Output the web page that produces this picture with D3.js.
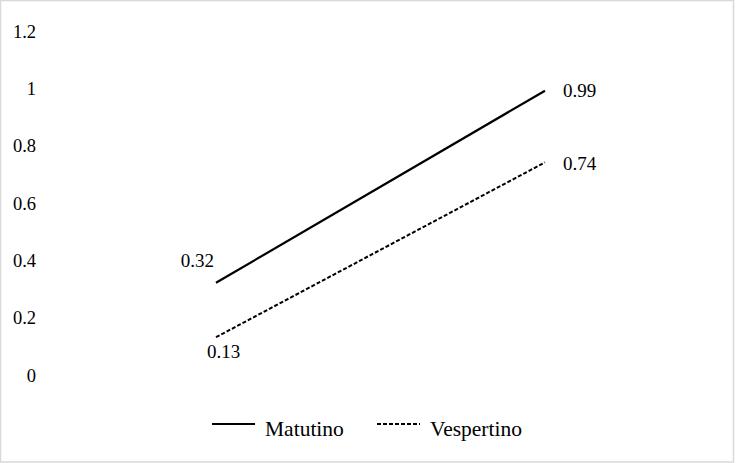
<!DOCTYPE html>
<html>
<head>
<meta charset="utf-8">
<script src="https://cdn.jsdelivr.net/npm/d3@7"></script>
<style>
	body { margin: 0; background: #fff; }
	svg text { font-family: 'Liberation Serif', 'DejaVu Serif', serif !important; fill: #000; }
</style>
</head>
<body>
<div id="chart"></div>
<script>
// data
var moments = ["inicio", "final"];
var matutino = [0.32, 0.99];
var vespertino = [0.13, 0.74];
var yTicks = [0, 0.2, 0.4, 0.6, 0.8, 1, 1.2];
var seriesNames = ["Matutino", "Vespertino"];

var width = 736, height = 463;

var svg = d3.select("#chart")
	.append("svg")
	.attr("width", width)
	.attr("height", height);

// light frame round the chart area
svg.append("rect")
	.attr("x", 0.5).attr("y", 0.5)
	.attr("width", 733).attr("height", 461.5)
	.attr("fill", "#fff")
	.attr("stroke", "#d9d9d9")
	.attr("stroke-width", 1.5);

var x = d3.scalePoint().domain(moments).range([216, 545]);
var y = d3.scaleLinear().domain([0, 1.2]).range([374.5, 30.5]);

// y axis: labels only, no line or ticks
var yAxis = svg.append("g")
	.attr("transform", "translate(36,0)")
	.call(d3.axisLeft(y).tickValues(yTicks).tickSize(0).tickPadding(0)
		.tickFormat(function(d) { return String(d); }));
yAxis.select(".domain").remove();
yAxis.selectAll("text")
	.attr("font-size", 18.5)
	.attr("dy", "0.36em");

var line = d3.line()
	.x(function(d, i) { return x(moments[i]); })
	.y(function(d) { return y(d); });

var series = [
	{ name: seriesNames[0], values: matutino, dash: null, w: 2.2 },
	{ name: seriesNames[1], values: vespertino, dash: "4,2", w: 2 }
];

svg.selectAll("path.serie")
	.data(series)
	.enter()
	.append("path")
	.attr("class", "serie")
	.attr("d", function(d) { return line(d.values); })
	.attr("fill", "none")
	.attr("stroke", "#000")
	.attr("stroke-width", function(d) { return d.w; })
	.attr("stroke-dasharray", function(d) { return d.dash; });

// data labels
function label(val, cx, dx, dy, anchor) {
	svg.append("text")
		.attr("x", x(cx) + dx)
		.attr("y", y(val) + dy)
		.attr("text-anchor", anchor)
		.attr("font-size", 19)
		.text(String(val));
}
label(matutino[0], moments[0], -2, -16, "end");
label(matutino[1], moments[1], 18, 6, "start");
label(vespertino[0], moments[0], -9, 21, "start");
label(vespertino[1], moments[1], 18, 8, "start");

// legend
var legend = svg.append("g").attr("transform", "translate(0,424)");
var lx = [212, 377];
series.forEach(function(s, i) {
	legend.append("line")
		.attr("x1", lx[i]).attr("x2", lx[i] + 43)
		.attr("y1", 0).attr("y2", 0)
		.attr("stroke", "#000")
		.attr("stroke-width", s.w)
		.attr("stroke-dasharray", s.dash);
	legend.append("text")
		.attr("x", lx[i] + 53)
		.attr("y", 12)
		.attr("font-size", 21.5)
		.text(s.name);
});
</script>
</body>
</html>
